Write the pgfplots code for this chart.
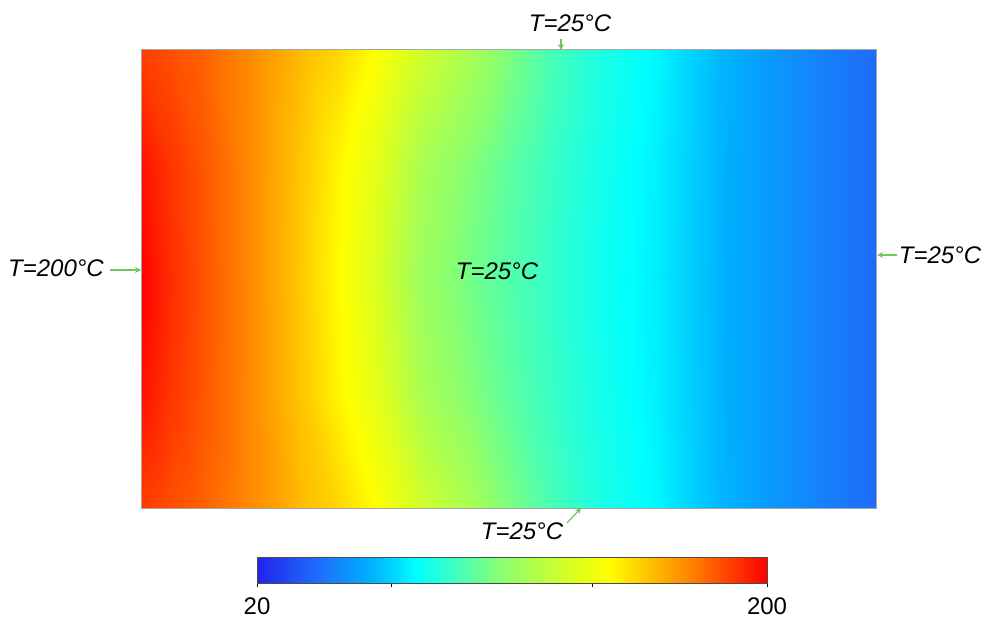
\documentclass[border=0pt]{standalone}
\usepackage{fontspec}
\usepackage{pgfplots}
\pgfplotsset{compat=1.18}
\usepackage{pgfplotstable}
\usetikzlibrary{arrows.meta}
\setmainfont{Liberation Sans}
\newcommand{\lab}{\fontsize{12}{14}\selectfont}

\definecolor{arrowgreen}{RGB}{110,200,90}

% temperature field, x and y normalised to the plate (0..1)
\pgfplotstableread{
x y T
0 0 187.4
0.0395 0 183.8
0.0803 0 180.2
0.1483 0 171.2
0.2163 0 160.4
0.2707 0 153.2
0.3184 0 144.2
0.3796 0 128.0
0.4476 0 115.4
0.5020 0 102.8
0.5565 0 92.0
0.6245 0 82.1
0.7061 0 74.0
0.7878 0 61.4
0.8694 0 52.4
0.9374 0 46.1
1 0 40.7
0 0.25 196.4
0.0395 0.25 189.2
0.0803 0.25 182.9
0.1483 0.25 171.2
0.2163 0.25 157.7
0.2707 0.25 146.0
0.3184 0.25 134.8
0.3796 0.25 115.9
0.4476 0.25 104.6
0.5020 0.25 96.1
0.5565 0.25 88.6
0.6245 0.25 80.4
0.7061 0.25 72.7
0.7878 0.25 60.8
0.8694 0.25 52.4
0.9374 0.25 46.1
1 0.25 40.7
0 0.5 200.0
0.0395 0.5 191.0
0.0803 0.5 183.8
0.1483 0.5 171.2
0.2163 0.5 156.8
0.2707 0.5 144.2
0.3184 0.5 131.6
0.3796 0.5 111.8
0.4476 0.5 101.0
0.5020 0.5 93.8
0.5565 0.5 87.5
0.6245 0.5 79.4
0.7061 0.5 72.2
0.7878 0.5 60.5
0.8694 0.5 52.4
0.9374 0.5 46.1
1 0.5 40.7
0 0.75 196.4
0.0395 0.75 189.2
0.0803 0.75 182.9
0.1483 0.75 171.2
0.2163 0.75 157.7
0.2707 0.75 146.0
0.3184 0.75 134.8
0.3796 0.75 115.9
0.4476 0.75 104.6
0.5020 0.75 96.1
0.5565 0.75 88.6
0.6245 0.75 80.4
0.7061 0.75 72.7
0.7878 0.75 60.8
0.8694 0.75 52.4
0.9374 0.75 46.1
1 0.75 40.7
0 1 187.4
0.0395 1 183.8
0.0803 1 180.2
0.1483 1 171.2
0.2163 1 160.4
0.2707 1 153.2
0.3184 1 144.2
0.3796 1 128.0
0.4476 1 115.4
0.5020 1 102.8
0.5565 1 92.0
0.6245 1 82.1
0.7061 1 74.0
0.7878 1 61.4
0.8694 1 52.4
0.9374 1 46.1
1 1 40.7
}\field

\begin{document}
\begin{tikzpicture}
\useasboundingbox (0,0) rectangle (491.5pt,308.5pt);
\begin{axis}[
	at={(70.5pt,54.5pt)}, anchor=south west,
	scale only axis,
	width=367.5pt, height=229pt,
	xmin=0, xmax=1, ymin=0, ymax=1,
	enlargelimits=false,
	axis on top,
	xtick=\empty, ytick=\empty,
	axis line style={draw=gray!70, line width=0.5pt},
	colormap={fluent}{rgb255(0)=(35,35,235); rgb255(12)=(30,110,250);
		rgb255(22)=(0,175,255); rgb255(28)=(0,225,255);
		rgb255(31)=(0,255,255); rgb255(36)=(40,255,215);
		rgb255(48)=(140,255,110); rgb255(62)=(220,255,30);
		rgb255(69)=(255,255,0); rgb255(85)=(255,130,0);
		rgb255(100)=(255,0,0)},
	point meta min=20, point meta max=200,
	colorbar horizontal,
	colorbar style={
		at={(0.5048,-0.107)}, anchor=north,
		scale only axis,
		width=255pt, height=13pt,
		xtick={20,67.3,138.2,200},
		xticklabels={20,,,200},
		xtick pos=left,
		tick align=outside,
		major tick length=2pt,
		every tick/.style={black, line width=0.4pt},
		axis line style={draw=gray!60!black, line width=0.4pt},
		/pgf/number format/assume math mode=true,
		xticklabel style={font=\lab, inner sep=0pt, yshift=-5pt},
	},
]
\addplot[surf, shader=interp, mesh/cols=17, point meta=explicit]
	table[x=x, y=y, meta=T] {\field};
\end{axis}

% boundary conditions
\begin{scope}[font=\lab\itshape, inner sep=0pt]
\node at (285pt,297pt) {T=25°C};
\node at (28pt,174.5pt) {T=200°C};
\node at (470pt,181pt) {T=25°C};
\node at (248.5pt,173pt) {T=25°C};
\node at (261pt,43pt) {T=25°C};
\end{scope}
\begin{scope}[arrowgreen, line width=0.6pt, -{Stealth[length=3pt,width=3pt]}]
\draw (280.5pt,289pt) -- (280.5pt,283.5pt);
\draw (55pt,173.5pt) -- (70.5pt,173.5pt);
\draw (448.5pt,181pt) -- (438.5pt,181pt);
\draw (283.5pt,47pt) -- (290.5pt,54.5pt);
\end{scope}
\end{tikzpicture}
\end{document}
